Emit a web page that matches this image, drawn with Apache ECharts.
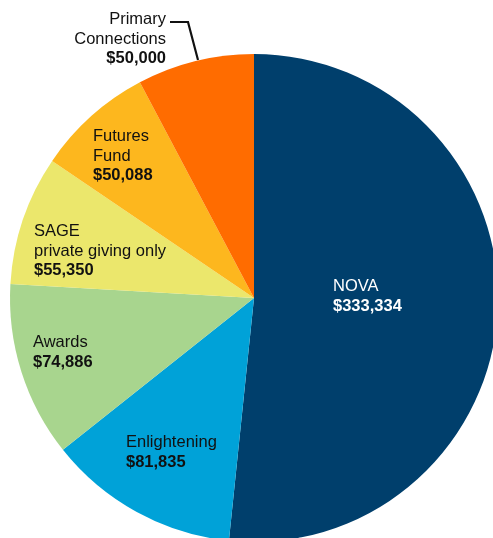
<!DOCTYPE html>
<html>
<head>
<meta charset="utf-8">
<script src="https://cdn.jsdelivr.net/npm/echarts@6/dist/echarts.min.js"></script>
<style>
    html, body { margin: 0; padding: 0; background: #fff; }
    #chart { width: 493px; height: 538px; }
</style>
</head>
<body>
<div id="chart"></div>
<script>
    // chart data
    const names = ['NOVA', 'Enlightening', 'Awards', 'SAGE\nprivate giving only', 'Futures\nFund', 'Primary\nConnections']
    const values = [333334, 81835, 74886, 55350, 50088, 50000]
    const colors = ['#003f6c', '#00a2d8', '#a8d58e', '#ebe76c', '#fdb71e', '#ff6c00']

    // where each label block sits (top-left, primary is right aligned)
    const labelPos = [
        { x: 333, y: 277 },
        { x: 126, y: 433 },
        { x: 33, y: 333 },
        { x: 34, y: 222 },
        { x: 93, y: 127 },
        { x: 166, y: 10, align: 'right' }
    ]

    const fmt = v => '$' + v.toLocaleString('en-US')

    const chart = echarts.init(document.getElementById('chart'))
    chart.setOption({
        animation: false,
        textStyle: {
            fontFamily: 'Liberation Sans, Arial, Helvetica, sans-serif'
        },
        series: [{
            type: 'pie',
            center: [254, 298],
            radius: 244,
            startAngle: 90,
            clockwise: true,
            silent: true,
            itemStyle: {
                borderWidth: 0
            },
            label: {
                position: 'inside',
                color: '#111',
                fontSize: 16.5,
                lineHeight: 19.5,
                formatter: p => {
                    const lines = p.name.split('\n').map(s => '{n|' + s + '}')
                    return lines.join('\n') + '\n{v|' + fmt(p.value) + '}'
                },
                rich: {
                    n: { fontSize: 16.5, lineHeight: 19.5 },
                    v: { fontSize: 16.5, lineHeight: 19.5, fontWeight: 'bold' }
                }
            },
            labelLine: { show: false },
            labelLayout: p => {
                const pos = labelPos[p.dataIndex]
                const out = {
                    x: pos.x,
                    y: pos.y,
                    align: pos.align || 'left',
                    verticalAlign: 'top'
                }
                if (p.dataIndex === 5) {
                    out.labelLinePoints = [[198, 60], [188, 22], [170, 22]]
                }
                return out
            },
            data: names.map((n, i) => {
                const d = {
                    name: n,
                    value: values[i],
                    itemStyle: { color: colors[i] }
                }
                if (i === 0) {
                    d.label = { color: '#fff', rich: { n: { color: '#fff' }, v: { color: '#fff' } } }
                }
                if (i === 5) {
                    d.label = { position: 'outside' }
                    d.labelLine = { show: true, lineStyle: { color: '#111', width: 2.2 } }
                }
                return d
            })
        }]
    })
</script>
</body>
</html>
